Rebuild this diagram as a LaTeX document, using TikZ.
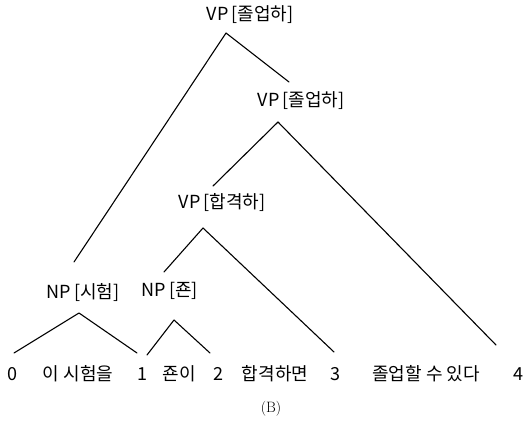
\documentclass[tikz,border=0pt]{standalone}
\usepackage{fontspec}
\newfontfamily\kr{Noto Sans CJK KR}
\begin{document}
\begin{tikzpicture}[x=1pt,y=-1pt,
  lab/.style={font=\kr\fontsize{18}{20}\selectfont, inner sep=0pt, anchor=center},
  edge/.style={line width=1.1pt, line cap=round, line join=round}]
\useasboundingbox (0,0) rectangle (524,428);
% labels
\node[lab] (vp1) at (250,15) {VP\,[졸업하]};
\node[lab] (vp2) at (301,101) {VP\,[졸업하]};
\node[lab] (vp3) at (222,203) {VP\,[합격하]};
\node[lab] (np1) at (83,293) {NP\,[시험]};
\node[lab] (np2) at (170,291) {NP\,[죤]};
% leaves
\node[lab] (l0) at (12,374) {0};
\node[lab] (w1) at (78,374) {이 시험을};
\node[lab] (l1) at (142,374) {1};
\node[lab] (w2) at (179,374) {죤이};
\node[lab] (l2) at (218,374) {2};
\node[lab] (w3) at (275,374) {합격하면};
\node[lab] (l3) at (335,374) {3};
\node[lab] (w4) at (426,374) {졸업할 수 있다};
\node[lab] (l4) at (518,374) {4};
\node[font=\fontsize{15}{17}\selectfont, inner sep=0pt] (cap) at (271,409) {(B)};
% line points
\coordinate (a1) at (226,33);
\coordinate (a1l) at (74,262);
\coordinate (a1r) at (289,82);
\coordinate (a2) at (278,122);
\coordinate (a2l) at (213,186);
\coordinate (a2r) at (496,345);
\coordinate (a3) at (203,228);
\coordinate (a3l) at (164,272);
\coordinate (a3r) at (334,352);
\coordinate (a4) at (79,313);
\coordinate (a4l) at (14,353);
\coordinate (a4r) at (137,353);
\coordinate (a5) at (174,320);
\coordinate (a5l) at (147,355);
\coordinate (a5r) at (210,353);
\draw[edge] (a1l) -- (a1) -- (a1r);
\draw[edge] (a2l) -- (a2) -- (a2r);
\draw[edge] (a3l) -- (a3) -- (a3r);
\draw[edge] (a4l) -- (a4) -- (a4r);
\draw[edge] (a5l) -- (a5) -- (a5r);
\end{tikzpicture}
\end{document}
